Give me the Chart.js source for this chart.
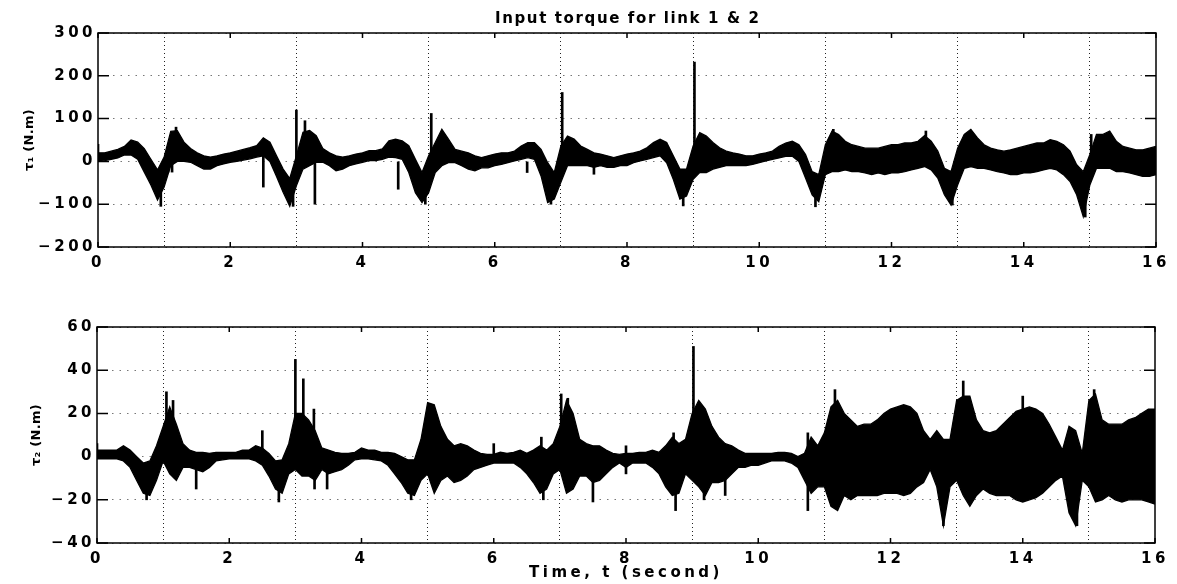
<!DOCTYPE html>
<html>
<head>
<meta charset="utf-8">
<title>Input torque for link 1 & 2</title>
<script src="https://cdn.jsdelivr.net/npm/chart.js@4.4.1/dist/chart.umd.min.js"></script>
<style>
  html, body { margin: 0; padding: 0; background: #fff; }
  #wrap { position: relative; width: 1177px; height: 584px; overflow: hidden; }
  #top { position: absolute; left: 0; top: 0; }
  #bottom { position: absolute; left: 0; top: 280px; }
</style>
</head>
<body>
<div id="wrap">
  <canvas id="top" width="1177" height="280"></canvas>
  <canvas id="bottom" width="1177" height="304"></canvas>
</div>
<script>
// Envelope of tau_1 (upper / lower edge of the noisy band), sampled every 0.1 s
const hi1 = [
  20, 20, 24, 28, 35, 50, 45, 30, 5, -20,
  10, 70, 72, 45, 30, 20, 13, 10, 13, 17,
  20, 24, 28, 32, 37, 55, 45, 13, -18, -40,
  13, 68, 72, 60, 30, 20, 13, 10, 13, 17,
  20, 25, 25, 29, 48, 52, 48, 37, 5, -26,
  13, 44, 75, 52, 28, 24, 20, 13, 9, 13,
  17, 20, 20, 24, 36, 44, 44, 28, -3, -26,
  36, 59, 52, 36, 28, 20, 17, 13, 9, 13,
  17, 20, 24, 32, 44, 52, 44, 13, -18, -18,
  36, 67, 59, 44, 32, 24, 20, 17, 13, 13,
  17, 20, 24, 35, 43, 47, 39, 16, -24, -31,
  39, 71, 63, 47, 39, 35, 31, 31, 31, 35,
  39, 39, 43, 43, 47, 60, 47, 24, -16, -24,
  31, 63, 75, 55, 39, 31, 27, 24, 27, 31,
  35, 39, 43, 43, 51, 47, 39, 24, -8, -24,
  16, 63, 63, 71, 47, 35, 31, 27, 27, 31,
  35
];
const lo1 = [
  0, 2, 5, 8, 15, 15, 5, -25, -55, -90,
  -60, -10, 0, 0, -2, -10, -18, -18, -10, -6,
  -2, 0, 3, 6, 10, 13, 0, -35, -72, -105,
  -57, -18, -10, -2, -2, -10, -22, -18, -10, -6,
  -2, 2, 2, 5, 10, 9, 5, -26, -73, -96,
  -73, -26, -10, -3, -3, -10, -18, -22, -15, -15,
  -10, -7, -3, 1, 5, 9, 5, -34, -96, -88,
  -49, -10, -10, -10, -10, -14, -10, -14, -14, -10,
  -10, -3, 1, 5, 9, 13, -3, -42, -88, -81,
  -42, -26, -26, -18, -14, -10, -10, -10, -10, -7,
  -3, 1, 5, 8, 12, 12, 0, -39, -78, -94,
  -31, -24, -24, -20, -24, -24, -27, -31, -27, -31,
  -27, -27, -24, -20, -16, -12, -20, -39, -78, -102,
  -55, -16, -12, -16, -16, -20, -24, -27, -31, -31,
  -27, -27, -24, -20, -16, -20, -31, -47, -78, -129,
  -55, -16, -16, -16, -24, -24, -27, -31, -35, -35,
  -31
];
// Narrow spikes of tau_1: time, from, to
const spikeT1  = [0.0, 0.95, 1.06, 1.12, 1.18, 2.50, 2.95, 3.00, 3.13, 3.28, 4.54, 4.95, 5.04, 6.49, 6.85, 7.02, 7.50, 8.85, 9.02, 10.85, 11.12, 12.52, 12.92, 14.93, 15.02];
const spikeLo1 = [0, -105, -25, -25, 0, -60, -105, 0, 0, -100, -65, -100, 0, -26, -100, 0, -30, -104, 0, -106, 0, 0, -102, -130, -40];
const spikeHi1 = [40, -60, 20, 10, 80, 20, -60, 120, 95, 0, 0, -60, 112, 0, -60, 161, 0, -60, 232, -60, 75, 71, -60, -90, 63];

// Envelope of tau_2, sampled every 0.1 s
const hi2 = [
  3, 3, 3, 3, 5, 3, 0, -3, -2, 5,
  14, 23, 15, 6, 3, 2, 2, 1.5, 2, 2,
  2, 2, 3, 3, 5, 4, 1.5, -2, -1.5, 6,
  20, 20, 17, 12, 4, 3, 2, 1.5, 1.5, 2,
  4, 3, 3, 2, 2, 1.5, 0, -1.5, -1.5, 8,
  25, 24, 14, 8, 5, 6, 5, 3, 1.5, 1,
  1, 2, 1.5, 2, 3, 1.5, 3, 5, 3, 6,
  14, 26, 20, 8, 6, 5, 5, 3, 1.5, 1,
  1.5, 1.5, 2, 2, 3, 2, 5, 9, 6, 8,
  20, 26, 22, 14, 9, 6, 5, 3, 1.5, 1.5,
  1.5, 1.5, 1.5, 2, 2, 1.5, 0, 1.5, 9, 5,
  11, 23, 26, 20, 17, 14, 15, 15, 17, 20,
  22, 23, 24, 23, 20, 12, 8, 12, 8, 8,
  26, 28, 28, 17, 12, 11, 12, 15, 18, 21,
  22, 23, 22, 20, 15, 9, 3, 14, 12, 1.5,
  26, 29, 17, 15, 15, 15, 17, 18, 20, 22,
  22
];
const lo2 = [
  -1, -1, -1, -1, -2, -5, -11, -17, -18, -11,
  -2, -8, -11, -5, -5, -6, -7, -5, -2, -1.5,
  -1, -1, -1, -1, -2, -4, -9, -15, -17, -8,
  -6, -9, -9, -11, -6, -8, -7, -6, -4, -1.5,
  -1, -1, -1.5, -2, -4, -8, -12, -17, -18, -11,
  -8, -17, -11, -9, -12, -11, -9, -6, -5, -4,
  -3, -3, -3, -3, -5, -8, -12, -17, -15, -8,
  -6, -17, -15, -9, -9, -12, -11, -8, -5, -3,
  -5, -3, -3, -3, -5, -8, -14, -18, -17, -8,
  -11, -14, -18, -12, -12, -11, -8, -5, -5, -4,
  -4, -3, -2, -2, -2, -3, -5, -11, -17, -14,
  -14, -23, -25, -18, -20, -18, -18, -18, -18, -17,
  -17, -17, -18, -17, -14, -12, -6, -14, -32, -14,
  -11, -18, -23, -18, -15, -17, -18, -18, -18, -20,
  -21, -20, -19, -17, -14, -11, -9, -26, -32, -11,
  -14, -21, -20, -18, -20, -21, -20, -20, -20, -21,
  -22
];
// Narrow spikes of tau_2: time, from, to
const spikeT2  = [0.0, 0.75, 1.05, 1.15, 1.50, 2.50, 2.75, 3.00, 3.12, 3.28, 3.29, 3.48, 4.75, 6.00, 6.72, 6.75, 7.02, 7.12, 7.50, 8.00, 8.72, 8.75, 9.02, 9.18, 9.50, 10.75, 11.16, 12.80, 13.10, 14.00, 14.82, 15.08];
const spikeLo2 = [0, -20, 0, 0, -15, 0, -21, 0, 0, 0, -15, -15, -20, 0, 0, -20, 0, 0, -21, -8, 0, -25, 0, -20, -18, -25, 0, -32, 0, 0, -32, 0];
const spikeHi2 = [6, -10, 30, 26, 0, 12, -10, 45, 36, 22, 0, 0, -10, 6, 9, -10, 29, 27, -5, 5, 11, -10, 51, -10, -5, 11, 31, -20, 35, 28, -20, 31];

// sample times 0, 0.1 ... 16
const times = hi1.map((_, i) => i / 10);

const FAMILY = '"DejaVu Sans", "Liberation Sans", sans-serif';
const FONT = { family: FAMILY, size: 15, weight: 'bold' };

// wide lettering like the scanned figure (tick labels, x title)
const spacing = {
    id: 'spacing',
    beforeUpdate: function(chart) { chart.ctx.letterSpacing = '3.5px'; },
    beforeDraw: function(chart) { chart.ctx.letterSpacing = '3.5px'; }
};

// axes box and inward tick marks
const frame = {
    id: 'frame',
    afterDraw: function(chart) {
        const ctx = chart.ctx;
        const a = chart.chartArea;
        const x = chart.scales.x, y = chart.scales.y;
        ctx.save();
        ctx.setLineDash([]);
        ctx.strokeStyle = '#000';
        ctx.lineWidth = 1.5;
        ctx.strokeRect(a.left, a.top, a.right - a.left, a.bottom - a.top);
        ctx.beginPath();
        x.ticks.forEach(function(t) {
            const px = x.getPixelForValue(t.value);
            ctx.moveTo(px, a.top); ctx.lineTo(px, a.top + 5);
            ctx.moveTo(px, a.bottom); ctx.lineTo(px, a.bottom - 5);
        });
        y.ticks.forEach(function(t) {
            const py = y.getPixelForValue(t.value);
            ctx.moveTo(a.left, py); ctx.lineTo(a.left + 11, py);
            ctx.moveTo(a.right, py); ctx.lineTo(a.right - 11, py);
        });
        ctx.stroke();
        ctx.restore();
    }
};

// plot title and rotated y label
const labels = {
    id: 'labels',
    afterDraw: function(chart, args, opts) {
        const ctx = chart.ctx;
        const a = chart.chartArea;
        const cx = (a.left + a.right) / 2;
        ctx.save();
        ctx.fillStyle = '#000';
        ctx.textBaseline = 'middle';
        if (opts.title) {
            ctx.font = 'bold 15px ' + FAMILY;
            ctx.letterSpacing = '0px';
            const w0 = ctx.measureText(opts.title).width;
            const sp = Math.max(0, (opts.titleWidth - w0) / (opts.title.length - 1));
            ctx.letterSpacing = sp.toFixed(2) + 'px';
            ctx.textAlign = 'left';
            ctx.fillText(opts.title, cx - opts.titleWidth / 2, opts.titleY);
        }
        ctx.font = 'bold 13px ' + FAMILY;
        ctx.letterSpacing = '0.3px';
        ctx.textAlign = 'center';
        ctx.translate(opts.yTitleX, (a.top + a.bottom) / 2);
        ctx.rotate(-Math.PI / 2);
        ctx.fillText(opts.yTitle, 0, 0);
        ctx.restore();
    }
};

function minusSign(v) {
    return v < 0 ? '\u2212' + Math.abs(v) : String(v);
}

function makeChart(id, o) {
    const band = {
        type: 'line',
        borderColor: '#000',
        borderWidth: 1.3,
        pointRadius: 0,
        tension: 0
    };
    return new Chart(document.getElementById(id), {
        type: 'line',
        data: {
            datasets: [
                Object.assign({}, band, {
                    data: times.map((t, i) => ({ x: t, y: o.lo[i] })),
                    fill: false
                }),
                Object.assign({}, band, {
                    data: times.map((t, i) => ({ x: t, y: o.hi[i] })),
                    fill: '-1',
                    backgroundColor: '#000'
                }),
                {
                    type: 'bar',
                    data: o.spikeT.map((t, i) => ({ x: t, y: [o.spikeLo[i], o.spikeHi[i]] })),
                    backgroundColor: '#000',
                    borderWidth: 0,
                    barThickness: 2
                }
            ]
        },
        options: {
            responsive: false,
            animation: false,
            events: [],
            layout: { padding: o.padding },
            plugins: {
                legend: { display: false },
                tooltip: { enabled: false },
                title: { display: false },
                labels: {
                    title: o.title,
                    titleWidth: 264,
                    titleY: 19,
                    yTitle: o.yTitle,
                    yTitleX: o.yTitleX
                }
            },
            scales: {
                x: {
                    type: 'linear',
                    min: 0,
                    max: 16,
                    offset: false,
                    afterFit: function(s) { s.height = o.xHeight; },
                    ticks: { stepSize: 2, padding: 7, color: '#000', font: FONT, maxRotation: 0 },
                    grid: { color: '#222', lineWidth: 1, drawTicks: false },
                    border: { display: false, dash: [1, 3] },
                    title: o.xTitle ? {
                        display: true,
                        text: o.xTitle,
                        color: '#000',
                        font: FONT,
                        padding: { top: 0, bottom: 2 }
                    } : { display: false }
                },
                y: {
                    min: o.yMin,
                    max: o.yMax,
                    afterFit: function(s) { s.width = o.yWidth; },
                    ticks: { stepSize: o.yStep, padding: 2, color: '#000', font: FONT, callback: minusSign },
                    grid: { color: '#777', lineWidth: 1, drawTicks: false },
                    border: { display: false, dash: [1.5, 6] }
                }
            }
        },
        plugins: [spacing, frame, labels]
    });
}

makeChart('top', {
    lo: lo1, hi: hi1,
    spikeT: spikeT1, spikeLo: spikeLo1, spikeHi: spikeHi1,
    title: 'Input torque for link 1 & 2',
    yTitle: '\u03c4\u2081 (N.m)',
    yTitleX: 30,
    yMin: -200, yMax: 300, yStep: 100,
    yWidth: 98,
    xHeight: 33,
    padding: { left: 0, right: 21, top: 33, bottom: 0 }
});

makeChart('bottom', {
    lo: lo2, hi: hi2,
    spikeT: spikeT2, spikeLo: spikeLo2, spikeHi: spikeHi2,
    xTitle: 'Time, t (second)',
    yTitle: '\u03c4\u2082 (N.m)',
    yTitleX: 37,
    yMin: -40, yMax: 60, yStep: 20,
    yWidth: 97,
    xHeight: 41,
    padding: { left: 0, right: 22, top: 47, bottom: 0 }
});
</script>
</body>
</html>
